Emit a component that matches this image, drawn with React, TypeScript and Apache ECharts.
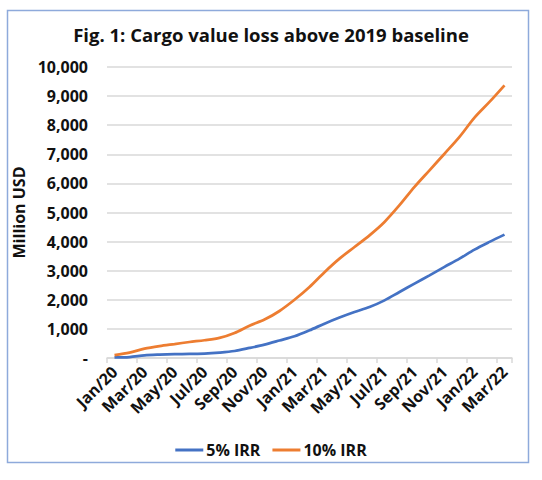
import React, { useEffect, useRef } from "react";
import * as echarts from "echarts";

const months = [
  "Jan/20", "Feb/20", "Mar/20", "Apr/20", "May/20", "Jun/20", "Jul/20", "Aug/20", "Sep/20",
  "Oct/20", "Nov/20", "Dec/20", "Jan/21", "Feb/21", "Mar/21", "Apr/21", "May/21", "Jun/21",
  "Jul/21", "Aug/21", "Sep/21", "Oct/21", "Nov/21", "Dec/21", "Jan/22", "Feb/22", "Mar/22",
];
const irr5 = [20, 30, 90, 115, 130, 140, 150, 185, 240, 345, 460, 600, 745, 950, 1180, 1390, 1580, 1750, 1980, 2270, 2555, 2840, 3130, 3415, 3725, 3990, 4240];
const irr10 = [100, 185, 320, 410, 480, 550, 610, 690, 860, 1110, 1320, 1615, 2000, 2440, 2950, 3415, 3815, 4215, 4675, 5250, 5880, 6450, 7020, 7600, 8260, 8800, 9370];
const seriesNames = ["5% IRR", "10% IRR"];
const titleText = "Fig. 1: Cargo value loss above 2019 baseline";
const yAxisName = "Million USD";

const FONT = "'Open Sans', 'Noto Sans', sans-serif";

export default function App() {
  const ref = useRef<HTMLDivElement>(null);
  useEffect(() => {
    if (!ref.current) return;
    const chart = echarts.init(ref.current, null, { renderer: "svg" });
    chart.setOption({
      animation: false,
      backgroundColor: "#ffffff",
      title: {
        text: titleText,
        left: "center",
        top: 20,
        textStyle: { fontFamily: FONT, fontSize: 18.5, fontWeight: "bold", color: "#111" },
      },
      graphic: [
        {
          type: "rect",
          shape: { x: 7.5, y: 10.5, width: 521, height: 452 },
          style: { fill: "none", stroke: "#8eaadb", lineWidth: 1.5 },
          silent: true,
        },
      ],
      legend: {
        data: seriesNames,
        left: "center",
        top: 437,
        icon: "rect",
        itemWidth: 28,
        itemHeight: 3,
        itemGap: 12,
        textStyle: { fontFamily: FONT, fontSize: 16, fontWeight: "bold", color: "#111", padding: [0, 0, 0, -2] },
      },
      grid: { left: 107, right: 30, top: 67, bottom: 122, containLabel: false },
      xAxis: {
        type: "category",
        data: months,
        boundaryGap: true,
        axisLine: { lineStyle: { color: "#d9d9d9", width: 1.5 } },
        axisTick: { show: true, interval: 1, length: 5, lineStyle: { color: "#d9d9d9", width: 1.5 } },
        axisLabel: {
          interval: 1,
          rotate: 45,
          margin: 11,
          fontFamily: FONT,
          fontSize: 16,
          fontWeight: "bold",
          color: "#111",
        },
      },
      yAxis: {
        type: "value",
        min: 0,
        max: 10000,
        interval: 1000,
        name: yAxisName,
        nameLocation: "middle",
        nameRotate: 90,
        nameGap: 80,
        nameTextStyle: { fontFamily: FONT, fontSize: 16, fontWeight: "bold", color: "#111" },
        axisLine: { show: false },
        axisTick: { show: false },
        splitLine: { lineStyle: { color: "#d9d9d9", width: 1.5 } },
        axisLabel: {
          margin: 19,
          fontFamily: FONT,
          fontSize: 16,
          fontWeight: "bold",
          color: "#111",
          formatter: (v: number) => (v === 0 ? "-" : v.toLocaleString("en-US")),
        },
      },
      series: [
        {
          name: seriesNames[0],
          type: "line",
          data: irr5,
          smooth: 0.3,
          showSymbol: false,
          lineStyle: { color: "#4472c4", width: 2.75 },
          itemStyle: { color: "#4472c4" },
        },
        {
          name: seriesNames[1],
          type: "line",
          data: irr10,
          smooth: 0.3,
          showSymbol: false,
          lineStyle: { color: "#ed7d31", width: 2.75 },
          itemStyle: { color: "#ed7d31" },
        },
      ],
    });
    return () => chart.dispose();
  }, []);
  return (
    <div
      ref={ref}
      style={{ position: "absolute", left: 0, top: 0, width: 542, height: 480 }}
    />
  );
}
